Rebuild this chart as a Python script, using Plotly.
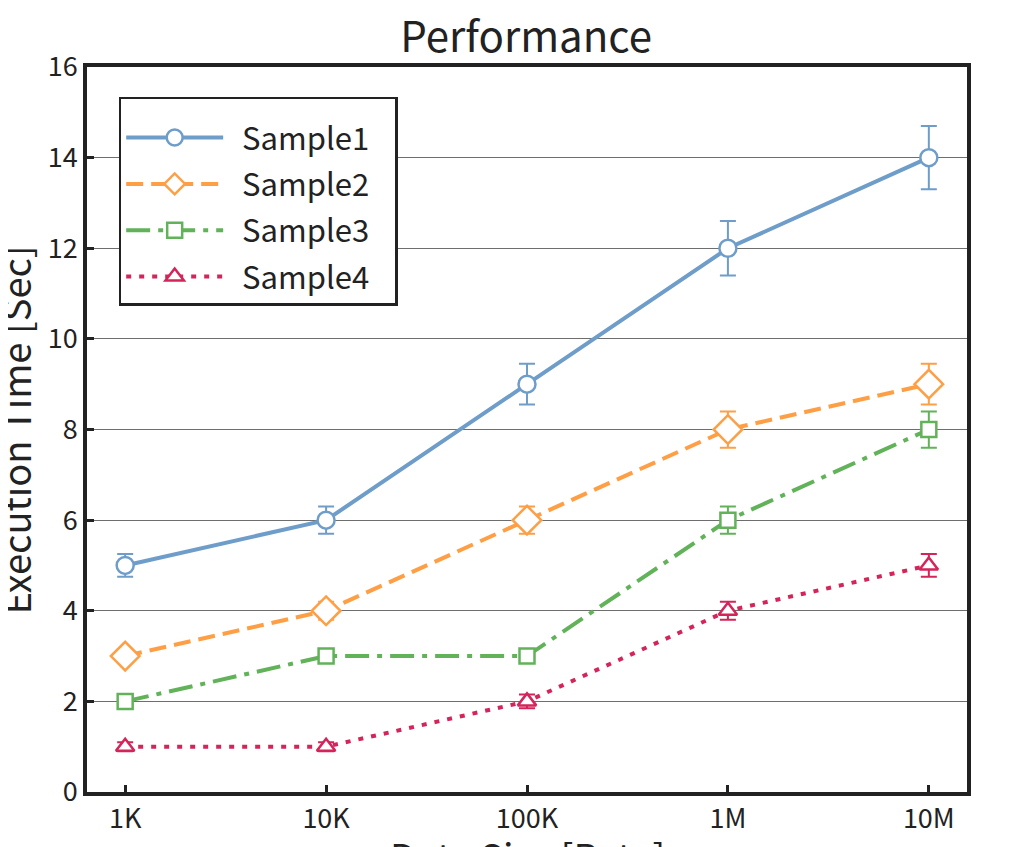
import plotly.graph_objects as go

# data sizes on a log axis
sizes = [1e3, 1e4, 1e5, 1e6, 1e7]
size_labels = ["1K", "10K", "100K", "1M", "10M"]

sample1 = [5, 6, 9, 12, 14]
sample1_err = [0.25, 0.3, 0.45, 0.6, 0.7]
sample2 = [3, 4, 6, 8, 9]
sample2_err = [0.1, 0.2, 0.3, 0.4, 0.45]
sample3 = [2, 3, 3, 6, 8]
sample3_err = [0.1, 0.1, 0.1, 0.3, 0.4]
sample4 = [1, 1, 2, 4, 5]
sample4_err = [0.1, 0.1, 0.15, 0.2, 0.25]

y_ticks = [0, 2, 4, 6, 8, 10, 12, 14, 16]

FONT = "Noto Sans CJK JP"
INK = "#222222"
NB = "\u00a0"  # padding inside the legend box

# name, values, errors, colour, dash, marker symbol, marker size
series = [
    ("Sample1", sample1, sample1_err, "#6f9dca", "solid", "circle", 17),
    ("Sample2", sample2, sample2_err, "#ff9f45", "17px,8px", "diamond", 22),
    ("Sample3", sample3, sample3_err, "#62b25a", "24px,8px,5px,8px", "square", 15),
    ("Sample4", sample4, sample4_err, "#d4245a", "5px,8px", "triangle-up", 16),
]

fig = go.Figure()
for name, vals, errs, color, dash, sym, msize in series:
    fig.add_trace(go.Scatter(
        x=sizes, y=vals, name=NB * 2 + name + NB * 3, mode="lines+markers",
        legendgroup=name,
        line=dict(color=color, width=4, dash=dash),
        marker=dict(symbol=sym, size=msize, color="white",
                    line=dict(color=color, width=2.5)),
        error_y=dict(type="data", array=errs, visible=True,
                     color=color, thickness=2, width=8),
    ))

fig.update_layout(
    width=1024, height=847,
    margin=dict(l=79, r=65, t=59, b=63),
    paper_bgcolor="white", plot_bgcolor="white",
    font=dict(family=FONT, size=27, color=INK),
    title=dict(text="Performance", x=0.506, xanchor="center",
               y=0.966, yanchor="middle",
               font=dict(family=FONT, size=42, color=INK)),
    showlegend=True,
    legend=dict(x=0.036, y=0.959, xanchor="left", yanchor="top",
                bgcolor="white", bordercolor=INK, borderwidth=2.5,
                font=dict(family=FONT, size=31, color=INK),
                title=dict(text=NB, font=dict(size=9)),
                itemwidth=97, tracegroupgap=3),
)

fig.update_xaxes(
    type="log", range=[2.81, 7.19],
    tickvals=sizes, ticktext=size_labels,
    ticks="inside", ticklen=7, tickwidth=2.5, tickcolor=INK,
    showline=True, linewidth=3.5, linecolor=INK, mirror=True,
    showgrid=False, zeroline=False,
)
fig.update_yaxes(
    range=[0, 16], tickvals=y_ticks,
    ticks="inside", ticklen=7, tickwidth=2.5, tickcolor=INK,
    showline=True, linewidth=3.5, linecolor=INK, mirror=True,
    showgrid=True, gridcolor="#6e6e6e", gridwidth=1.3, zeroline=False,
)

# axis titles sitting partly off the page, as in the original
fig.add_annotation(text="Execution Time [Sec]", xref="paper", yref="paper",
                   x=-0.082, y=0.5, xanchor="center", yanchor="middle",
                   textangle=-90, showarrow=False,
                   font=dict(family=FONT, size=38, color=INK))
fig.add_annotation(text="Data Size [Byte]", xref="paper", yref="paper",
                   x=0.5, y=-0.087, xanchor="center", yanchor="middle",
                   showarrow=False,
                   font=dict(family=FONT, size=38, color=INK))

fig.write_html("out.html")
